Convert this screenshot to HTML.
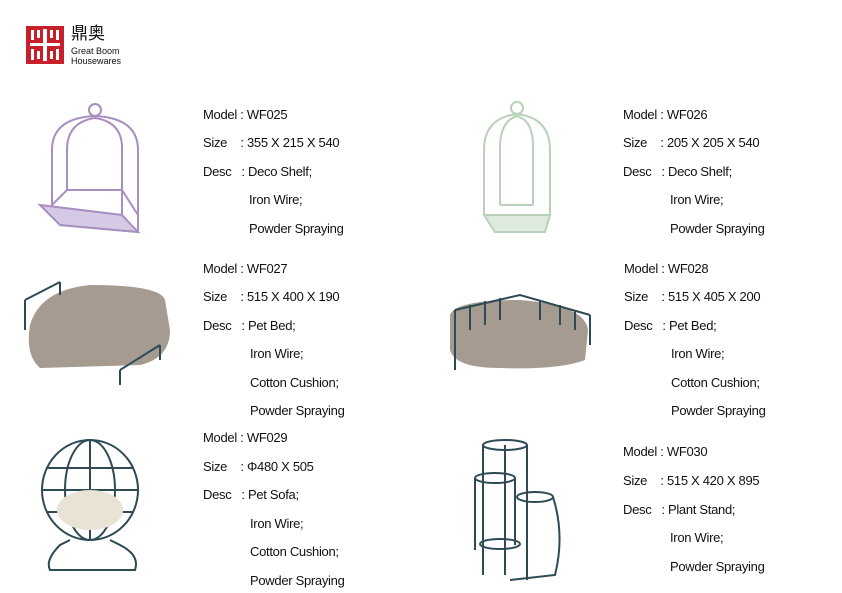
<!DOCTYPE html>
<html><head><meta charset="utf-8"><style>
body{margin:0;width:842px;height:593px;background:#fff;position:relative;overflow:hidden;font-family:"Liberation Sans","Noto Sans CJK SC",sans-serif;color:#111}
.t{position:absolute;font-size:13px;letter-spacing:-0.3px;white-space:nowrap;line-height:16px}
svg{position:absolute;left:0;top:0}
</style></head><body>
<svg width="842" height="593">
<g fill="#c8202a">
<rect x="26" y="26" width="38" height="38"/>
</g>
<g fill="#fff">
<rect x="30" y="43" width="30" height="3"/>
<rect x="43" y="29" width="4" height="32"/>
<rect x="31" y="30" width="3" height="10"/><rect x="37" y="30" width="3" height="8"/>
<rect x="50" y="30" width="3" height="8"/><rect x="56" y="30" width="3" height="10"/>
<rect x="31" y="49" width="3" height="11"/><rect x="37" y="51" width="3" height="8"/>
<rect x="50" y="51" width="3" height="8"/><rect x="56" y="49" width="3" height="11"/>
</g>
<g fill="none" stroke="#a78fc0" stroke-width="2">
<circle cx="95" cy="110" r="6"/>
<path d="M52 205 V150 Q52 118 95 116 Q138 118 138 150 V232"/>
<path d="M67 190 V148 Q68 122 95 118 Q122 122 122 148 V215"/>
<path d="M52 205 L67 190 L122 190 L138 215 L138 232 L60 225 Z"/>
<path d="M40 205 L60 225 L138 232 L122 215 Z" fill="#d6c9e6"/>
</g>
<g fill="none" stroke="#b9d1b8" stroke-width="2">
<circle cx="517" cy="108" r="6"/>
<path d="M484 215 V150 Q484 118 517 114 Q550 118 550 150 V215"/>
<path d="M500 205 V145 Q501 121 517 116 Q533 121 533 145 V205"/>
<path d="M484 215 L495 232 L545 232 L550 215 Z" fill="#dfeadf"/>
<path d="M500 205 L533 205"/>
</g>
<path d="M30 325 Q40 290 90 285 Q160 285 165 300 L170 330 Q170 358 140 365 L40 368 Q25 355 30 325Z" fill="#a69b90"/>
<g fill="none" stroke="#2d4a55" stroke-width="2"><path d="M25 300 L60 282 M25 300 V330 M60 282 V295 M120 370 L160 345 M120 370 V385 M160 345 V360"/></g>
<path d="M450 315 Q455 300 520 300 Q585 305 588 330 L585 360 Q560 370 500 368 Q455 368 450 350Z" fill="#a69b90"/>
<g fill="none" stroke="#2d4a55" stroke-width="2"><path d="M455 310 L520 295 L590 315 M455 310 V370 M590 315 V345 M470 305 V330 M485 301 V325 M500 298 V320 M540 300 V320 M560 305 V325 M575 310 V330"/></g>
<g fill="none" stroke="#2d4a55" stroke-width="2">
<ellipse cx="90" cy="490" rx="48" ry="50"/>
<ellipse cx="90" cy="490" rx="25" ry="50"/><path d="M42 490 H138 M46 468 H134 M46 512 H134 M90 440 V540"/>
<path d="M70 540 L60 545 Q45 560 50 570 H135 Q140 555 120 545 L110 540"/>
</g>
<ellipse cx="90" cy="510" rx="33" ry="20" fill="#e9e3d6"/>
<g fill="none" stroke="#2d4a55" stroke-width="2">
<ellipse cx="505" cy="445" rx="22" ry="5"/><ellipse cx="495" cy="478" rx="20" ry="5"/>
<ellipse cx="535" cy="497" rx="18" ry="5"/><ellipse cx="500" cy="544" rx="20" ry="5"/>
<path d="M483 445 V575 M527 445 V580 M505 445 V575 M553 497 Q565 535 555 575 L510 580"/>
<path d="M475 478 V550 M515 478 V545"/>
</g>
</svg>
<div class="t" style="left:71px;top:26px;font-size:17px;letter-spacing:0">鼎奥</div>
<div class="t" style="left:71px;top:46px;font-size:9px;line-height:10px;letter-spacing:0">Great Boom<br>Housewares</div>

<div class="t" style="left:203px;top:107px">Model : WF025</div>
<div class="t" style="left:203px;top:135px">Size&nbsp;&nbsp;&nbsp;&nbsp;: 355 X 215 X 540</div>
<div class="t" style="left:203px;top:164px">Desc&nbsp;&nbsp;&nbsp;: Deco Shelf;</div>
<div class="t" style="left:249px;top:192px">Iron Wire;</div>
<div class="t" style="left:249px;top:221px">Powder Spraying</div>

<div class="t" style="left:623px;top:107px">Model : WF026</div>
<div class="t" style="left:623px;top:135px">Size&nbsp;&nbsp;&nbsp;&nbsp;: 205 X 205 X 540</div>
<div class="t" style="left:623px;top:164px">Desc&nbsp;&nbsp;&nbsp;: Deco Shelf;</div>
<div class="t" style="left:670px;top:192px">Iron Wire;</div>
<div class="t" style="left:670px;top:221px">Powder Spraying</div>

<div class="t" style="left:203px;top:261px">Model : WF027</div>
<div class="t" style="left:203px;top:289px">Size&nbsp;&nbsp;&nbsp;&nbsp;: 515 X 400 X 190</div>
<div class="t" style="left:203px;top:318px">Desc&nbsp;&nbsp;&nbsp;: Pet Bed;</div>
<div class="t" style="left:250px;top:346px">Iron Wire;</div>
<div class="t" style="left:250px;top:375px">Cotton Cushion;</div>
<div class="t" style="left:250px;top:403px">Powder Spraying</div>

<div class="t" style="left:624px;top:261px">Model : WF028</div>
<div class="t" style="left:624px;top:289px">Size&nbsp;&nbsp;&nbsp;&nbsp;: 515 X 405 X 200</div>
<div class="t" style="left:624px;top:318px">Desc&nbsp;&nbsp;&nbsp;: Pet Bed;</div>
<div class="t" style="left:671px;top:346px">Iron Wire;</div>
<div class="t" style="left:671px;top:375px">Cotton Cushion;</div>
<div class="t" style="left:671px;top:403px">Powder Spraying</div>

<div class="t" style="left:203px;top:430px">Model : WF029</div>
<div class="t" style="left:203px;top:459px">Size&nbsp;&nbsp;&nbsp;&nbsp;: Φ480 X 505</div>
<div class="t" style="left:203px;top:487px">Desc&nbsp;&nbsp;&nbsp;: Pet Sofa;</div>
<div class="t" style="left:250px;top:516px">Iron Wire;</div>
<div class="t" style="left:250px;top:544px">Cotton Cushion;</div>
<div class="t" style="left:250px;top:573px">Powder Spraying</div>

<div class="t" style="left:623px;top:444px">Model : WF030</div>
<div class="t" style="left:623px;top:473px">Size&nbsp;&nbsp;&nbsp;&nbsp;: 515 X 420 X 895</div>
<div class="t" style="left:623px;top:502px">Desc&nbsp;&nbsp;&nbsp;: Plant Stand;</div>
<div class="t" style="left:670px;top:530px">Iron Wire;</div>
<div class="t" style="left:670px;top:559px">Powder Spraying</div>
</body></html>
